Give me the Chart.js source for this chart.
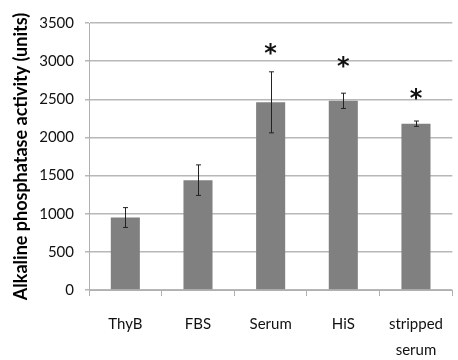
<!DOCTYPE html>
<html>
<head>
<meta charset="utf-8">
<script src="https://cdn.jsdelivr.net/npm/chart.js@4"></script>
<style>
  html, body { margin: 0; padding: 0; background: #fff; }
  #wrap { width: 458px; height: 360px; }
</style>
</head>
<body>
<div id="wrap"><canvas id="apChart" width="458" height="360"></canvas></div>
<script>
const categories = ["ThyB", "FBS", "Serum", "HiS", ["stripped", "serum"]];
const activity = [950, 1440, 2460, 2480, 2180];
const errors = [130, 200, 400, 100, 35];
// where the significance stars sit (y value), null = no star
const starAt = [null, null, 3190, 3010, 2590];
const yTicks = [0, 500, 1000, 1500, 2000, 2500, 3000, 3500];

const fontFamily = "Lato, 'Open Sans', sans-serif";

const errorBars = {
    id: "errorBars",
    afterDatasetsDraw(chart) {
        const ctx = chart.ctx;
        const x = chart.scales.x;
        const y = chart.scales.y;
        ctx.save();
        ctx.strokeStyle = "#222";
        ctx.lineWidth = 1;
        activity.forEach((v, i) => {
            const cx = Math.round(x.getPixelForValue(i)) + 0.5;
            const top = y.getPixelForValue(v + errors[i]);
            const bot = y.getPixelForValue(v - errors[i]);
            ctx.beginPath();
            ctx.moveTo(cx, top);
            ctx.lineTo(cx, bot);
            ctx.moveTo(cx - 2.5, top);
            ctx.lineTo(cx + 2.5, top);
            ctx.moveTo(cx - 2.5, bot);
            ctx.lineTo(cx + 2.5, bot);
            ctx.stroke();
        });
        ctx.fillStyle = "#111";
        ctx.font = "bold 24px 'DejaVu Sans', sans-serif";
        ctx.textAlign = "center";
        ctx.textBaseline = "alphabetic";
        starAt.forEach((s, i) => {
            if (s === null) return;
            const cx = x.getPixelForValue(i);
            const cy = y.getPixelForValue(s);
            ctx.fillText("*", cx, cy + 14);
        });
        ctx.restore();
    }
};

new Chart(document.getElementById("apChart"), {
    type: "bar",
    data: {
        labels: categories,
        datasets: [{
            data: activity,
            backgroundColor: "#808080",
            borderWidth: 0,
            categoryPercentage: 0.4,
            barPercentage: 1.0
        }]
    },
    plugins: [errorBars],
    options: {
        responsive: false,
        animation: false,
        layout: { padding: { top: 23, right: 0, left: 0, bottom: 0 } },
        plugins: { legend: { display: false }, tooltip: { enabled: false } },
        scales: {
            x: {
                offset: true,
                grid: {
                    offset: true,
                    drawOnChartArea: false,
                    drawTicks: true,
                    tickLength: 6,
                    color: "#b0b0b0"
                },
                border: { color: "#b0b0b0", width: 1 },
                ticks: {
                    color: "#111",
                    padding: 15,
                    font: { family: fontFamily, size: 15, lineHeight: 1.75 }
                },
                afterFit(scale) { scale.height = 70; }
            },
            y: {
                min: 0,
                max: 3500,
                afterBuildTicks(scale) { scale.ticks = yTicks.map(v => ({ value: v })); },
                grid: { color: "#b8b8b8", lineWidth: 1.5, tickLength: 4 },
                border: { color: "#b0b0b0", width: 1 },
                ticks: {
                    color: "#111",
                    padding: 11,
                    font: { family: fontFamily, size: 15 },
                    callback: v => String(v)
                },
                title: {
                    display: true,
                    text: "Alkaline phosphatase activity (units)",
                    color: "#000",
                    padding: { top: 10, bottom: 0 },
                    font: { family: fontFamily, size: 18, weight: "bold" }
                },
                afterFit(scale) { scale.width = 89; }
            }
        }
    }
});
</script>
</body>
</html>
